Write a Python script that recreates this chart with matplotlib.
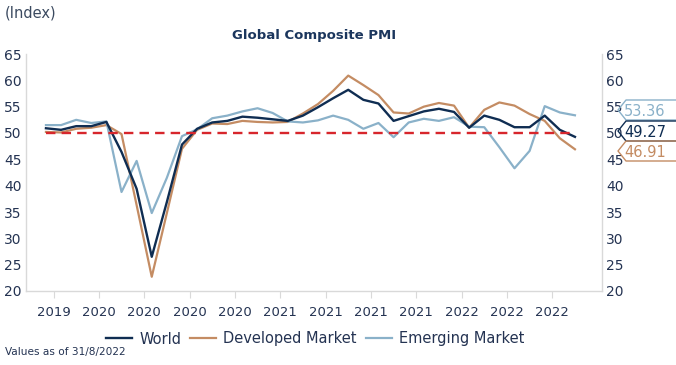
import matplotlib
matplotlib.use('Agg')
from matplotlib import pyplot as plt
from matplotlib.lines import Line2D

# monthly composite PMI, Sep 2019 - Aug 2022
months = list(range(36))
world = [50.9, 50.6, 51.3, 51.3, 52.1, 46.4, 39.4, 26.5, 36.9, 47.8, 50.8, 52.0,
         52.3, 53.1, 52.9, 52.6, 52.3, 53.3, 54.9, 56.6, 58.2, 56.3, 55.6, 52.3,
         53.2, 54.1, 54.6, 54.0, 51.0, 53.3, 52.5, 51.1, 51.1, 53.3, 50.6, 49.27]
developed = [50.2, 50.1, 50.8, 51.0, 51.5, 49.8, 36.3, 22.7, 34.8, 47.0, 50.6, 51.8,
             51.7, 52.3, 52.1, 52.0, 52.1, 53.7, 55.5, 58.0, 60.9, 59.1, 57.2, 53.9,
             53.7, 55.0, 55.7, 55.2, 51.0, 54.4, 55.8, 55.2, 53.6, 52.3, 49.0, 46.91]
emerging = [51.5, 51.5, 52.5, 51.9, 52.2, 38.8, 44.7, 34.8, 41.5, 49.4, 50.7, 52.8,
            53.3, 54.1, 54.7, 53.8, 52.2, 52.0, 52.4, 53.3, 52.5, 50.8, 51.9, 49.2,
            52.0, 52.7, 52.3, 53.0, 51.2, 51.1, 47.3, 43.3, 46.6, 55.1, 53.9, 53.36]
year_labels = ['2019', '2020', '2020', '2020', '2020', '2021', '2021', '2021', '2021',
               '2022', '2022', '2022']
threshold = 50

navy = '#0f2d52'
tan = '#c48c63'
blue = '#8ab1c9'
red = '#d7262c'
txt = '#243352'
grid = '#d9d9d9'

W, H = 676, 365
fig = plt.figure(figsize=(W / 100, H / 100), dpi=100)
ax = fig.add_axes([26 / W, 1 - 291 / H, (602 - 26) / W, (291 - 54) / H])

ax.hlines(threshold, months[0], months[-1], colors=red, linestyles=(0, (4, 2.6)), lw=1.7, zorder=4)
ax.plot(months, developed, color=tan, lw=1.6, label='Developed Market', zorder=2)
ax.plot(months, emerging, color=blue, lw=1.6, label='Emerging Market', zorder=2)
ax.plot(months, world, color=navy, lw=1.7, label='World', zorder=3)

ax.set_xlim(-1.32, 36.79)
ax.set_ylim(20, 65)
ax.set_yticks(range(20, 66, 5))
ax.set_xticks([0.5 + 3 * k for k in range(len(year_labels))])
ax.set_xticklabels(year_labels)

ax.spines['top'].set_visible(False)
for s in ['left', 'right', 'bottom']:
    ax.spines[s].set_color(grid)
    ax.spines[s].set_linewidth(1)
ax.tick_params(axis='x', length=5, color=grid, labelsize=9.5, labelcolor=txt, pad=6)
ax.tick_params(axis='y', length=0, labelsize=10, labelcolor=txt, pad=3)

ax2 = ax.twinx()
ax2.set_ylim(20, 65)
ax2.set_yticks(range(20, 66, 5))
for s in ['top', 'left', 'bottom', 'right']:
    ax2.spines[s].set_visible(False)
ax2.tick_params(axis='y', length=0, labelsize=10, labelcolor=txt, pad=3)

# value tags on the right
def fp(x, y):
    return (x / W, 1 - y / H)

tags = [(emerging, blue, 100), (world, navy, 121), (developed, tan, 141)]
for series, col, top in tags:
    bot = top + 20
    pts = [fp(W, top), fp(626, top), fp(618, top + 10), fp(626, bot), fp(W, bot)]
    xs, ys = zip(*pts)
    fig.add_artist(Line2D(xs, ys, color=col, lw=1, transform=fig.transFigure))
    fig.text(624 / W, 1 - (top + 11) / H, f'{series[-1]:.2f}', color=col,
             fontsize=10.5, va='center', ha='left')

handles = [ax.lines[2], ax.lines[0], ax.lines[1]]
fig.legend(handles, [h.get_label() for h in handles], loc='center',
           bbox_to_anchor=(315 / W, 1 - 339 / H), ncol=3, frameon=False,
           fontsize=10.5, handlelength=1.8, handletextpad=0.5, columnspacing=0.6,
           labelcolor=txt)

fig.text(314 / W, 1 - 35 / H, 'Global Composite PMI', ha='center', va='center',
         fontsize=9.5, fontweight='bold', color='#1b365d')
fig.text(5 / W, 1 - 13 / H, '(Index)', ha='left', va='center', fontsize=10.5, color='#3b4a60')
fig.text(5 / W, 1 - 352 / H, 'Values as of 31/8/2022', ha='left', va='center',
         fontsize=7.6, color=txt)

fig.savefig('out.png', dpi=100)
